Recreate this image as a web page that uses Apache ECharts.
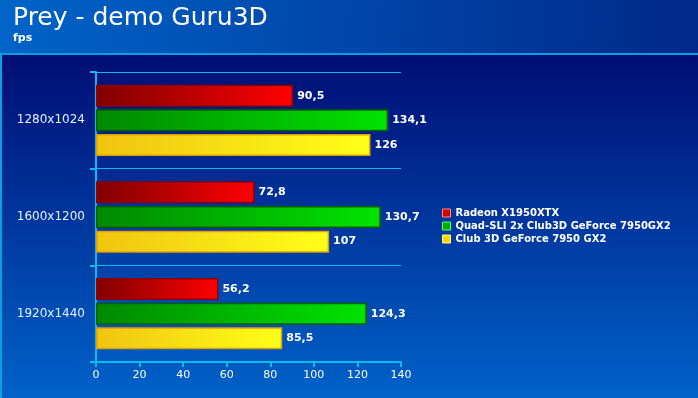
<!DOCTYPE html>
<html>
<head>
<meta charset="utf-8">
<script src="https://cdn.jsdelivr.net/npm/echarts@6/dist/echarts.min.js"></script>
<style>
  html, body { margin: 0; padding: 0; background: #000068; }
  #chart { width: 698px; height: 398px; }
</style>
</head>
<body>
<div id="chart"></div>
<script>
var resolutions = ['1280x1024', '1600x1200', '1920x1440'];
var radeon = [90.5, 72.8, 56.2];
var quadSli = [134.1, 130.7, 124.3];
var club3d = [126, 107, 85.5];
var seriesNames = ['Radeon X1950XTX', 'Quad-SLI 2x Club3D GeForce 7950GX2', 'Club 3D GeForce 7950 GX2'];

var font = 'DejaVu Sans';
var cyan = '#10b8f0';

var chart = echarts.init(document.getElementById('chart'));

function grad(a, b) {
  return new echarts.graphic.LinearGradient(0, 0, 1, 0, [
    { offset: 0, color: a },
    { offset: 1, color: b }
  ]);
}

function barSeries(name, data, c1, c2, border) {
  return {
    name: name,
    type: 'bar',
    data: data,
    barWidth: 22,
    barGap: '12%',
    itemStyle: {
      color: grad(c1, c2),
      borderColor: border,
      borderWidth: 1.5
    },
    label: {
      show: true,
      position: 'right',
      distance: 4,
      color: '#ffffff',
      fontFamily: font,
      fontWeight: 'bold',
      fontSize: 11,
      formatter: function (p) { return String(p.value).replace('.', ','); }
    }
  };
}

var option = {
  backgroundColor: new echarts.graphic.LinearGradient(0, 0, 0, 1, [
    { offset: 0, color: '#000068' },
    { offset: 1, color: '#0062c8' }
  ]),
  animation: false,
  graphic: [
    {
      type: 'rect', left: 0, top: 0, z: -1,
      shape: { width: 698, height: 53 },
      style: {
        fill: new echarts.graphic.LinearGradient(0, 0, 1, 1, [
          { offset: 0, color: '#0064c8' },
          { offset: 1, color: '#00288a' }
        ])
      }
    },
    { type: 'rect', left: 0, top: 53, shape: { width: 698, height: 2 }, style: { fill: '#0aa0e0' } },
    { type: 'rect', left: 0, top: 53, shape: { width: 2, height: 345 }, style: { fill: '#0aa0e0' } },
    {
      type: 'text', left: 13, top: 6,
      style: { text: 'Prey - demo Guru3D', fill: '#ffffff', font: '25px "DejaVu Sans"' }
    },
    {
      type: 'text', left: 13, top: 33,
      style: { text: 'fps', fill: '#ffffff', font: 'bold 11px "DejaVu Sans"' }
    }
  ],
  grid: { left: 96, right: 297, top: 72, bottom: 36 },
  legend: {
    orient: 'vertical',
    left: 437,
    top: 203,
    itemWidth: 8,
    itemHeight: 8,
    itemGap: 3,
    icon: 'rect',
    textStyle: { color: '#ffffff', fontFamily: font, fontWeight: 'bold', fontSize: 10 },
    data: [
      { name: seriesNames[0], itemStyle: { color: '#d00000', borderColor: '#ff9070', borderWidth: 1 } },
      { name: seriesNames[1], itemStyle: { color: '#00b000', borderColor: '#60ff60', borderWidth: 1 } },
      { name: seriesNames[2], itemStyle: { color: '#f8d800', borderColor: '#ffff90', borderWidth: 1 } }
    ]
  },
  xAxis: {
    type: 'value',
    min: 0,
    max: 140,
    interval: 20,
    axisLine: { show: true, lineStyle: { color: cyan, width: 2 } },
    axisTick: { show: true, length: 5, lineStyle: { color: cyan, width: 2 } },
    axisLabel: { color: '#ffffff', fontFamily: font, fontSize: 11, margin: 8 },
    splitLine: { show: false }
  },
  yAxis: {
    type: 'category',
    data: resolutions,
    inverse: true,
    axisLine: { show: true, lineStyle: { color: cyan, width: 2 } },
    axisTick: { show: true, length: 6, lineStyle: { color: cyan, width: 2 } },
    axisLabel: { color: '#e8eeff', fontFamily: font, fontSize: 12, margin: 11 },
    splitLine: { show: true, lineStyle: { color: cyan, width: 1 } }
  },
  series: [
    barSeries(seriesNames[0], radeon, '#800000', '#ff0000', '#900000'),
    barSeries(seriesNames[1], quadSli, '#008800', '#00e400', '#006000'),
    barSeries(seriesNames[2], club3d, '#f0c410', '#ffff18', '#e0a000')
  ]
};

chart.setOption(option);
</script>
</body>
</html>
